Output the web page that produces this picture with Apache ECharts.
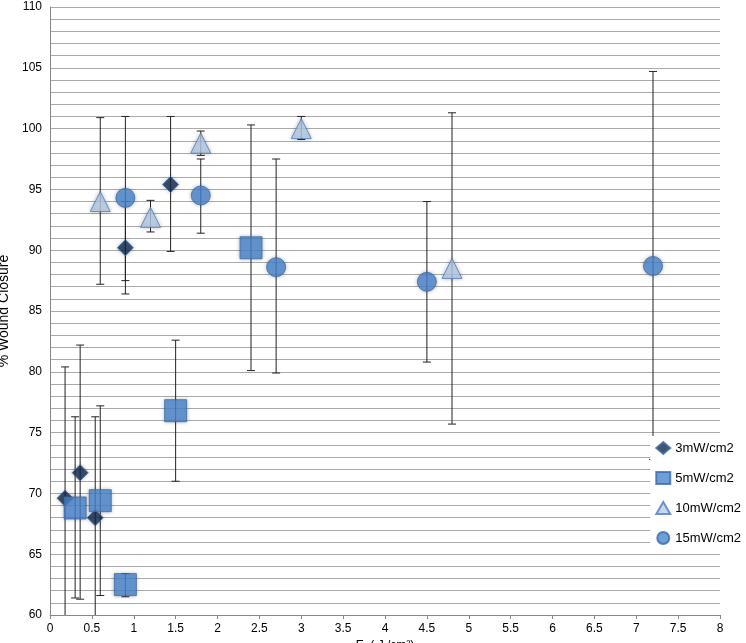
<!DOCTYPE html>
<html><head><meta charset="utf-8">
<script src="https://cdn.jsdelivr.net/npm/echarts@6/dist/echarts.min.js"></script>
<style>html,body{margin:0;background:#fff}#c{width:746px;height:643px}</style>
</head><body><div id="c"></div>
<script>
// [x, mean, low, high]
const s3 = [[0.18, 69.6, 58.8, 80.4], [0.36, 71.7, 61.3, 82.2], [0.54, 68.0, 59.7, 76.3], [0.9, 90.2, 86.4, 94.0], [1.44, 95.4, 89.9, 101.0]];
const s5 = [[0.3, 68.8, 61.4, 76.3], [0.6, 69.4, 61.6, 77.2], [0.9, 62.5, 61.5, 63.4], [1.5, 76.8, 71.0, 82.6], [2.4, 90.2, 80.1, 100.3]];
const s10 = [[0.6, 94.0, 87.2, 100.9], [1.2, 92.7, 91.5, 94.1], [1.8, 98.8, 97.8, 99.8], [3.0, 100.0, 99.1, 101.0], [4.8, 88.5, 75.7, 101.3]];
const s15 = [[0.9, 94.3, 87.5, 101.0], [1.8, 94.5, 91.4, 97.5], [2.7, 88.6, 79.9, 97.5], [4.5, 87.4, 80.8, 94.0], [7.2, 88.7, 72.8, 104.7]];
const names = ['3mW/cm2', '5mW/cm2', '10mW/cm2', '15mW/cm2'];
const colors = ['#13294b', '#4a86d0', '#b9cdea', '#4a86d0'];
const symbols = ['diamond', 'rect', 'triangle', 'circle'];
const sizes = [16, 22, 20, 19];
const all = [s3, s5, s10, s15];

function errSeries(d) {
  return {
    type: 'custom', silent: true, z: 1,
    data: d.map(p => [p[0], p[2], p[3]]),
    renderItem: (params, api) => {
      const lo = api.coord([api.value(0), Math.max(api.value(1), 60)]);
      const hi = api.coord([api.value(0), api.value(2)]);
      const w = 4;
      const st = { stroke: '#222', lineWidth: 1 };
      const ch = [
        { type: 'line', shape: { x1: hi[0], y1: hi[1], x2: lo[0], y2: lo[1] }, style: st },
        { type: 'line', shape: { x1: hi[0] - w, y1: hi[1], x2: hi[0] + w, y2: hi[1] }, style: st }
      ];
      if (api.value(1) >= 60) ch.push({ type: 'line', shape: { x1: lo[0] - w, y1: lo[1], x2: lo[0] + w, y2: lo[1] }, style: st });
      return { type: 'group', children: ch };
    }
  };
}

const series = [];
all.forEach(d => series.push(errSeries(d)));
all.forEach((d, i) => series.push({
  name: names[i], type: 'scatter', z: 3,
  symbol: symbols[i], symbolSize: sizes[i],
  itemStyle: { color: colors[i], borderColor: i === 2 ? '#4a7cc0' : '#3a6aa8', borderWidth: 1, shadowBlur: 4, shadowColor: 'rgba(0,0,0,0.3)' },
  data: d.map(p => [p[0], p[1]])
}));

const chart = echarts.init(document.getElementById('c'));
chart.setOption({
  animation: false,
  textStyle: { fontFamily: 'Liberation Sans, Arial' },
  grid: { left: 50, right: 26, top: 7, bottom: 28, containLabel: false, outerBoundsMode: 'none' },
  legend: {
    orient: 'vertical', right: 0, top: 436, itemGap: 16,
    backgroundColor: '#fff', itemWidth: 14, itemHeight: 12,
    textStyle: { fontSize: 13, color: '#000' },
    data: names
  },
  xAxis: {
    type: 'value', min: 0, max: 8, interval: 0.5,
    name: 'E  ( J /cm²)', nameLocation: 'middle', nameGap: 22,
    nameTextStyle: { fontSize: 12, color: '#000' },
    axisLine: { lineStyle: { color: '#888' } },
    axisTick: { show: true, inside: false, length: 4 },
    axisLabel: { color: '#000', fontSize: 12 },
    splitLine: { show: false }
  },
  yAxis: {
    type: 'value', min: 60, max: 110, interval: 1,
    name: '% Wound Closure', nameLocation: 'middle', nameGap: 32,
    nameTextStyle: { fontSize: 14, color: '#000' },
    axisLine: { show: true, lineStyle: { color: '#888' } },
    axisTick: { show: false },
    axisLabel: { color: '#000', fontSize: 12, formatter: v => (v % 5 === 0 ? v : '') },
    splitLine: { lineStyle: { color: '#aaa', width: 1 } }
  },
  series
});
</script></body></html>
